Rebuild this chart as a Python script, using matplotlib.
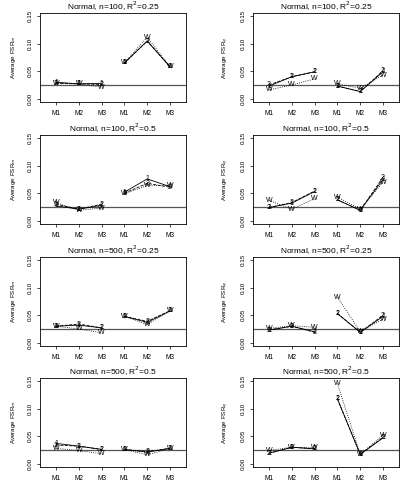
import matplotlib.pyplot as plt

plt.rcParams['font.family'] = ['Liberation Sans', 'DejaVu Sans']

xlabels = ['M1', 'M2', 'M3', 'M1', 'M2', 'M3']
titles = ['Normal, n=100, R$^2$=0.25', 'Normal, n=100, R$^2$=0.25',
          'Normal, n=100, R$^2$=0.5', 'Normal, n=100, R$^2$=0.5',
          'Normal, n=500, R$^2$=0.25', 'Normal, n=500, R$^2$=0.25',
          'Normal, n=500, R$^2$=0.5', 'Normal, n=500, R$^2$=0.5']
ylabels = ['Average FSR$_m$', 'Average FSR$_q$'] * 4

# series per panel: "1", "2", "W" -> six values (M1..M3, M1..M3)
s1 = [
    [0.030, 0.027, 0.028, 0.065, 0.105, 0.058],
    [0.023, 0.040, 0.049, 0.023, 0.013, 0.049],
    [0.027, 0.021, 0.028, 0.052, 0.076, 0.062],
    [0.024, 0.032, 0.053, 0.038, 0.019, 0.075],
    [0.030, 0.032, 0.027, 0.048, 0.037, 0.058],
    [0.023, 0.030, 0.020, 0.053, 0.019, 0.048],
    [0.037, 0.032, 0.026, 0.026, 0.021, 0.028],
    [0.019, 0.030, 0.027, 0.118, 0.017, 0.047],
]
s2 = [
    [0.028, 0.027, 0.026, 0.065, 0.105, 0.058],
    [0.025, 0.040, 0.049, 0.023, 0.013, 0.051],
    [0.030, 0.021, 0.030, 0.050, 0.068, 0.061],
    [0.024, 0.033, 0.054, 0.038, 0.019, 0.079],
    [0.030, 0.034, 0.027, 0.048, 0.039, 0.058],
    [0.023, 0.030, 0.019, 0.053, 0.019, 0.050],
    [0.034, 0.032, 0.026, 0.026, 0.022, 0.028],
    [0.019, 0.030, 0.027, 0.118, 0.017, 0.048],
]
sw = [
    [0.028, 0.027, 0.021, 0.065, 0.112, 0.058],
    [0.016, 0.025, 0.036, 0.027, 0.019, 0.043],
    [0.033, 0.019, 0.023, 0.049, 0.064, 0.064],
    [0.037, 0.021, 0.040, 0.043, 0.021, 0.070],
    [0.030, 0.025, 0.018, 0.048, 0.033, 0.058],
    [0.026, 0.031, 0.028, 0.083, 0.020, 0.043],
    [0.028, 0.024, 0.018, 0.026, 0.016, 0.028],
    [0.024, 0.030, 0.029, 0.146, 0.017, 0.052],
]
ref = 0.025

W, H = 403, 488
fig = plt.figure(figsize=(W / 100, H / 100), dpi=100)

lefts = [40, 253]
tops = [13, 135, 257, 378]
pw, ph = 146, 89

x = [1, 2, 3, 4, 5, 6]
for i in range(8):
    r, c = divmod(i, 2)
    ax = fig.add_axes([lefts[c] / W, 1 - (tops[r] + ph) / H, pw / W, ph / H])
    ax.axhline(ref, color='#555555', lw=0.9, zorder=1)
    for vals, ls, mk in [(s1[i], '-', '1'), (s2[i], '--', '2'), (sw[i], ':', 'W')]:
        for g in (slice(0, 3), slice(3, 6)):
            ax.plot(x[g], vals[g], color='black', ls=ls, lw=0.6, zorder=2)
        for xi, yi in zip(x, vals):
            ax.text(xi, yi, mk, ha='center', va='center', fontsize=5,
                    zorder=3, color='black')
    ax.set_xlim(0.3, 6.7)
    ax.set_ylim(-0.006, 0.156)
    ax.set_xticks(x)
    ax.set_xticklabels(xlabels, fontsize=4.7)
    ax.set_yticks([0, 0.05, 0.10, 0.15])
    ax.set_yticklabels(['0.00', '0.05', '0.10', '0.15'], fontsize=4.5,
                       rotation=90, va='center')
    ax.tick_params(length=2.5, width=0.5, pad=3)
    for sp in ax.spines.values():
        sp.set_linewidth(0.6)
    ax.set_title(titles[i], fontsize=6, pad=2)
    ax.set_ylabel(ylabels[i], fontsize=4.5, labelpad=7)

fig.savefig('out.png', dpi=100)
